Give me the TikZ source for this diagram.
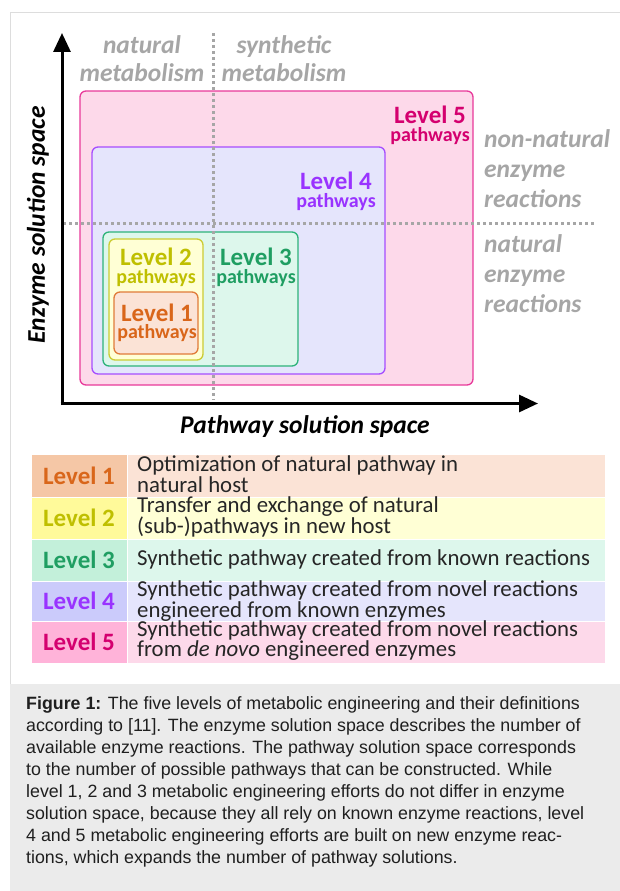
\documentclass[tikz,border=0pt]{standalone}
\usepackage{fontspec}
\setmainfont{Carlito}
\newfontfamily\capfont{Liberation Sans}
\usetikzlibrary{arrows.meta}
\definecolor{graytxt}{HTML}{A6A6A6}
\definecolor{dotgray}{HTML}{A6A6A6}
\definecolor{framegray}{HTML}{DDDDDD}
\definecolor{capbg}{HTML}{EBEBEB}
% box fills / borders / texts
\definecolor{fillA}{HTML}{FBE3D6}\definecolor{drawA}{HTML}{E07B39}\definecolor{txtA}{HTML}{D9661A}\definecolor{labA}{HTML}{F5C7A6}
\definecolor{fillB}{HTML}{FFFFD5}\definecolor{drawB}{HTML}{CCCC33}\definecolor{txtB}{HTML}{BFBF00}\definecolor{labB}{HTML}{FFFA9A}
\definecolor{fillC}{HTML}{DDF7EC}\definecolor{drawC}{HTML}{2DB37A}\definecolor{txtC}{HTML}{1F9E62}\definecolor{labC}{HTML}{C3F0DA}
\definecolor{fillD}{HTML}{E5E5FC}\definecolor{drawD}{HTML}{A64DFF}\definecolor{txtD}{HTML}{9933FF}\definecolor{labD}{HTML}{CBCBFB}
\definecolor{fillE}{HTML}{FDD9EA}\definecolor{drawE}{HTML}{E8399A}\definecolor{txtE}{HTML}{D4006F}\definecolor{labE}{HTML}{FFB3D9}
\newcommand{\lvtxt}[1]{{\fontsize{25}{17.5}\selectfont #1}\\pathways}
\begin{document}
\begin{tikzpicture}[x=1pt,y=-1pt,
  lbox/.style={rounded corners=6pt, line width=1.3pt},
  axisline/.style={line width=3pt, -{Triangle[width=17pt,length=19pt]}},
  dotline/.style={dotgray, line width=3pt, dash pattern=on 3pt off 3pt},
  graylab/.style={text=graytxt, font=\fontsize{25.5}{28}\selectfont\bfseries\itshape, inner sep=0pt},
  axlab/.style={font=\fontsize{25.5}{28}\selectfont\bfseries\itshape, inner sep=0pt},
  lvl/.style={font=\fontsize{25}{25}\selectfont\bfseries, inner sep=0pt},
  boxlab/.style={font=\fontsize{20}{17.5}\selectfont\bfseries, align=center, anchor=base, inner sep=0pt},
  desc/.style={font=\fontsize{22.8}{18}\selectfont, align=left, anchor=west, inner sep=0pt, text=black!85},
  capline/.style={font=\capfont\fontsize{17.8}{22}\selectfont, anchor=base west, inner sep=0pt, text=black!88}
]
\useasboundingbox (0,0) rectangle (620,891);
% frame
\draw[framegray, line width=1pt] (10,684) -- (10,12.5) -- (620,12.5);
\fill[capbg] (10,684) rectangle (620,891);

% level boxes
\draw[lbox, fill=fillE, draw=drawE] (80,91) rectangle (473,385);
\draw[lbox, fill=fillD, draw=drawD] (92,147) rectangle (385,374);
\draw[lbox, fill=fillC, draw=drawC] (103,232) rectangle (298,366);
\draw[lbox, fill=fillB, draw=drawB] (109,239) rectangle (203,360);
\draw[lbox, fill=fillA, draw=drawA] (114,292) rectangle (198,354);

% dotted lines
\draw[dotline] (213,33) -- (213,400);
\draw[dotline] (63,223) -- (596,223);

% axes
\coordinate (O) at (62,403.5);
\coordinate (Ytip) at (62,33);
\coordinate (Xtip) at (538,403.5);
\draw[axisline] ([yshift=-1.5pt]O) -- (Ytip);
\draw[axisline] ([xshift=-1.5pt]O) -- (Xtip);

% gray labels
\node[graylab, align=center] (natmet) at (142,59) {natural\\metabolism};
\node[graylab, align=center] (synmet) at (284,59) {synthetic\\metabolism};
\node[graylab, align=left, anchor=west, font=\fontsize{25.5}{30}\selectfont\bfseries\itshape] (nonnat) at (484,169) {non-natural\\enzyme\\reactions};
\node[graylab, align=left, anchor=west, font=\fontsize{25.5}{30}\selectfont\bfseries\itshape] (nat) at (484,274) {natural\\enzyme\\reactions};

% axis labels
\node[axlab, rotate=90] (ylab) at (38,225) {Enzyme solution space};
\node[axlab] (xlab) at (305,427) {Pathway solution space};

% box labels (anchor = baseline of the "pathways" line)
\node[boxlab, text=txtE] (l5) at (430,141) {\lvtxt{Level 5}};
\node[boxlab, text=txtD] (l4) at (336,207) {\lvtxt{Level 4}};
\node[boxlab, text=txtC] (l3) at (256,283) {\lvtxt{Level 3}};
\node[boxlab, text=txtB] (l2) at (156,283) {\lvtxt{Level 2}};
\node[boxlab, text=txtA] (l1) at (157,338.5) {\lvtxt{Level 1}};

% table
\fill[labA] (32,455) rectangle (126.5,496.5);  \fill[fillA] (128,455) rectangle (605,496.5);
\fill[labB] (32,498) rectangle (126.5,538.5);  \fill[fillB] (128,498) rectangle (605,538.5);
\fill[labC] (32,540) rectangle (126.5,580.5);  \fill[fillC] (128,540) rectangle (605,580.5);
\fill[labD] (32,582) rectangle (126.5,620.5);  \fill[fillD] (128,582) rectangle (605,620.5);
\fill[labE] (32,622) rectangle (126.5,663);    \fill[fillE] (128,622) rectangle (605,663);

\node[lvl, text=txtA] (t1) at (79,476) {Level 1};
\node[lvl, text=txtB] (t2) at (79,518) {Level 2};
\node[lvl, text=txtC] (t3) at (79,560) {Level 3};
\node[lvl, text=txtD] (t4) at (79,601) {Level 4};
\node[lvl, text=txtE] (t5) at (79,642) {Level 5};

\node[desc] (d1) at (137,474) {Optimization of natural pathway in\\natural host};
\node[desc] (d2) at (137,517) {Transfer and exchange of natural\\(sub-)pathways in new host};
\node[desc] (d3) at (137,559) {Synthetic pathway created from known reactions};
\node[desc] (d4) at (137,601) {Synthetic pathway created from novel reactions\\engineered from known enzymes};
\node[desc] (d5) at (137,640.5) {Synthetic pathway created from novel reactions\\from \textit{de novo} engineered enzymes};

% caption
\node[capline] (c1) at (26,709) {\textbf{Figure 1:} The five levels of metabolic engineering and their definitions};
\node[capline] (c2) at (26,731) {according to [11]. The enzyme solution space describes the number of};
\node[capline] (c3) at (26,753) {available enzyme reactions. The pathway solution space corresponds};
\node[capline] (c4) at (26,775) {to the number of possible pathways that can be constructed. While};
\node[capline] (c5) at (26,797) {level 1, 2 and 3 metabolic engineering efforts do not differ in enzyme};
\node[capline] (c6) at (26,819) {solution space, because they all rely on known enzyme reactions, level};
\node[capline] (c7) at (26,841) {4 and 5 metabolic engineering efforts are built on new enzyme reac-};
\node[capline] (c8) at (26,863) {tions, which expands the number of pathway solutions.};
\end{tikzpicture}
\end{document}
